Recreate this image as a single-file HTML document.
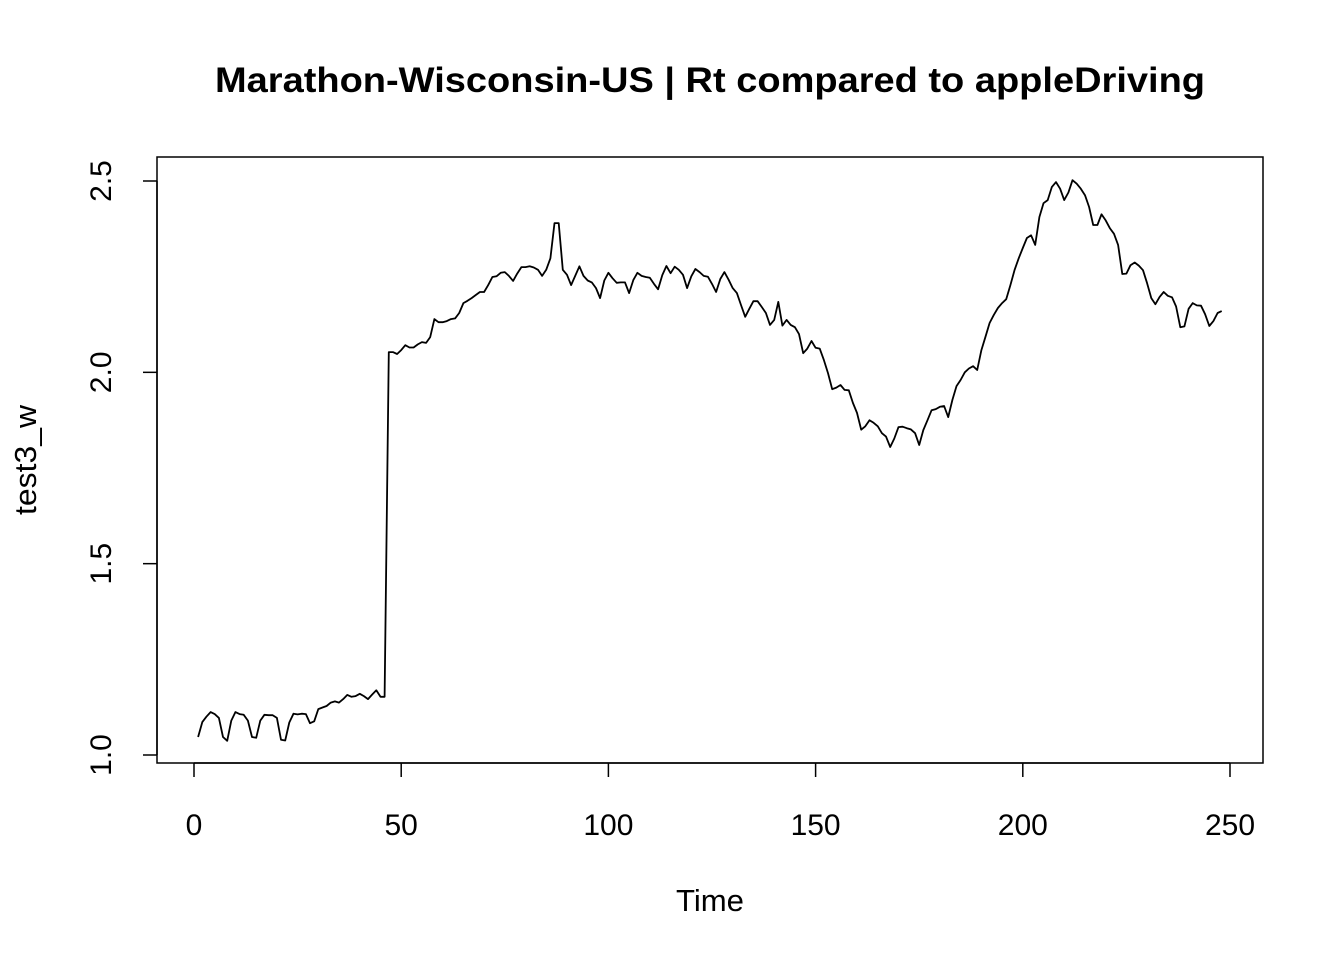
<!DOCTYPE html>
<html><head><meta charset="utf-8"><style>
html,body{margin:0;padding:0;background:#fff}
svg{display:block;font-family:"Liberation Sans",Arial,sans-serif}
</style></head><body>
<svg id="chart" width="1344" height="960">
<text x="710" y="92" text-anchor="middle" font-size="35" font-weight="bold" textLength="990" lengthAdjust="spacingAndGlyphs">Marathon-Wisconsin-US | Rt compared to appleDriving</text>
<rect x="157" y="157" width="1106" height="606" fill="none" stroke="#000" stroke-width="1.5"/>
<g id="xaxis"></g>
<g id="yaxis"></g>
<text x="710" y="911" text-anchor="middle" font-size="31" textLength="68" lengthAdjust="spacingAndGlyphs">Time</text>
<text transform="translate(36,460) rotate(-90)" text-anchor="middle" font-size="31" textLength="110" lengthAdjust="spacingAndGlyphs">test3_w</text>
<path id="line" fill="none" stroke="#000" stroke-width="1.8" stroke-linejoin="round"/>
</svg>
<script>
const xTicks=[0,50,100,150,200,250];
const yTicks=[1.0,1.5,2.0,2.5];
const yTickLabels=["1.0","1.5","2.0","2.5"];
const values=[1.047,1.086,1.10,1.112,1.107,1.097,1.047,1.037,1.09,1.112,1.107,1.105,1.09,1.047,1.045,1.09,1.105,1.104,1.104,1.097,1.04,1.038,1.085,1.108,1.106,1.108,1.107,1.083,1.088,1.12,1.124,1.128,1.137,1.14,1.137,1.146,1.157,1.152,1.154,1.16,1.154,1.146,1.158,1.169,1.152,1.152,
2.053,2.053,2.048,2.058,2.071,2.065,2.065,2.073,2.079,2.077,2.092,2.139,2.131,2.131,2.134,2.139,2.141,2.155,2.181,2.187,2.194,2.202,2.21,2.21,2.228,2.249,2.251,2.26,2.262,2.252,2.239,2.258,2.275,2.275,2.277,2.274,2.268,2.252,2.268,2.298,2.39,2.39,2.268,2.255,2.228,2.252,2.277,2.252,2.24,2.235,2.22,2.194,2.24,2.26,2.246,2.234,2.235,2.235,2.207,
2.241,2.26,2.252,2.249,2.247,2.231,2.217,2.254,2.278,2.259,2.276,2.268,2.255,2.22,2.251,2.27,2.262,2.252,2.25,2.231,2.21,2.244,2.262,2.242,2.22,2.207,2.176,2.145,2.166,2.186,2.186,2.171,2.155,2.124,2.137,2.184,2.122,2.137,2.124,2.118,2.1,2.05,2.062,2.082,2.064,2.062,2.032,1.998,1.956,1.96,1.967,1.954,1.953,1.92,1.894,1.85,1.859,1.875,1.868,1.859,1.841,1.832,1.805,1.827,1.857,1.858,1.854,1.851,1.841,1.81,1.849,1.875,1.901,1.904,1.91,
1.912,1.883,1.928,1.964,1.98,2.0,2.01,2.016,2.006,2.058,2.093,2.129,2.15,2.168,2.181,2.191,2.228,2.267,2.298,2.325,2.351,2.358,2.333,2.406,2.442,2.45,2.484,2.497,2.48,2.45,2.47,2.502,2.493,2.48,2.463,2.432,2.385,2.385,2.413,2.397,2.377,2.362,2.333,2.257,2.258,2.28,2.287,2.279,2.267,2.233,2.194,2.178,2.197,2.21,2.2,2.196,2.172,2.118,2.12,2.166,2.181,2.175,2.174,2.152,2.121,2.134,2.155,2.16];
const NS="http://www.w3.org/2000/svg";
function sx(t){return 194+t*(1230-194)/250;}
function sy(v){return 755-(v-1)*(755-181)/1.5;}
const xa=document.getElementById('xaxis'),ya=document.getElementById('yaxis');
function mk(tag,attrs,parent){const e=document.createElementNS(NS,tag);for(const k in attrs)e.setAttribute(k,attrs[k]);parent.appendChild(e);return e;}
const xl=mk('line',{x1:sx(xTicks[0]),x2:sx(xTicks[xTicks.length-1]),y1:763,y2:763,stroke:'#000','stroke-width':1.5},xa);


xTicks.forEach(t=>{
 const l=mk('line',{x1:sx(t),x2:sx(t),y1:763,y2:777,stroke:'#000','stroke-width':1.5},xa);
 
 
 const tx=mk('text',{x:sx(t),y:835,'text-anchor':'middle','font-size':30},xa);
 tx.textContent=t;
 
 
});
const yl=mk('line',{x1:157,x2:157,y1:sy(yTicks[0]),y2:sy(yTicks[yTicks.length-1]),stroke:'#000','stroke-width':1.5},ya);


yTicks.forEach((v,i)=>{
 const l=mk('line',{x1:143,x2:157,y1:sy(v),y2:sy(v),stroke:'#000','stroke-width':1.5},ya);
 
 
 const tx=mk('text',{transform:`translate(111,${sy(v)}) rotate(-90)`,'text-anchor':'middle','font-size':30},ya);
 tx.textContent=yTickLabels[i];
 
 
});
document.getElementById('line').setAttribute('d',values.map((v,i)=>(i?'L':'M')+sx(i+1).toFixed(1)+','+sy(v).toFixed(1)).join(''));
</script>
</body></html>
